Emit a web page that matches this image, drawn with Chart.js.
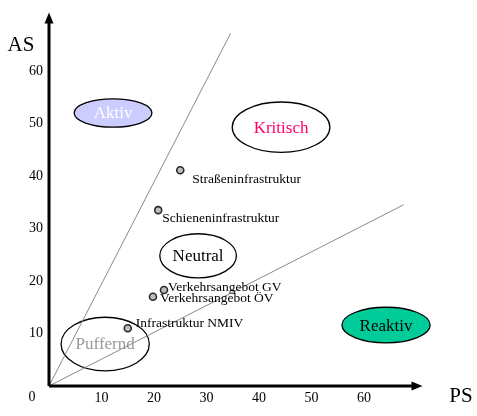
<!DOCTYPE html>
<html>
<head>
<meta charset="utf-8">
<script src="https://cdn.jsdelivr.net/npm/chart.js@4/dist/chart.umd.min.js"></script>
<style>
  html, body { margin: 0; padding: 0; background: #fff; }
  #wrap { width: 477px; height: 416px; }
</style>
</head>
<body>
<div id="wrap"><canvas id="portfolio_chart"></canvas></div>
<script>
// measures: PS on x, AS on y
const measureNames = ['Straßeninfrastruktur', 'Schieneninfrastruktur', 'Verkehrsangebot GV', 'Verkehrsangebot ÖV', 'Infrastruktur NMIV'];
const psValues = [25, 20.8, 21.9, 19.8, 15];
const asValues = [41.1, 33.5, 18.3, 17, 11];

// boundary lines from the origin
const steepLine = [{ x: 0, y: 0 }, { x: 34.6, y: 67.2 }];
const flatLine = [{ x: 0, y: 0 }, { x: 67.5, y: 34.5 }];

// zones (centre and half-axes in PS/AS units)
const zoneNames = ['Aktiv', 'Kritisch', 'Neutral', 'Puffernd', 'Reaktiv'];
const zoneCenterPS = [12.2, 44.2, 28.4, 10.7, 64.2];
const zoneCenterAS = [52, 49.3, 24.8, 8, 11.6];
const zoneRadiusPS = [7.4, 9.3, 7.3, 8.4, 8.4];
const zoneRadiusAS = [2.7, 4.8, 4.2, 5.1, 3.4];

const tickValues = [10, 20, 30, 40, 50, 60];

const zoneFill = ['#ccccff', '#ffffff', '#ffffff', 'rgba(0,0,0,0)', '#00cc99'];
const zoneText = ['#ffffff', '#ff0066', '#000000', '#999999', '#000000'];
const labelOffsets = [[12, 9], [4, 8], [4, -2], [7, 2], [8, -5]];

const serif = '"Liberation Serif", "Times New Roman", serif';

const drawExtras = {
  id: 'drawExtras',
  beforeDatasetsDraw(chart) {
    const { ctx, scales: { x, y } } = chart;
    ctx.save();
    zoneNames.forEach((name, i) => {
      const cx = x.getPixelForValue(zoneCenterPS[i]);
      const cy = y.getPixelForValue(zoneCenterAS[i]);
      const rx = x.getPixelForValue(zoneCenterPS[i] + zoneRadiusPS[i]) - cx;
      const ry = cy - y.getPixelForValue(zoneCenterAS[i] + zoneRadiusAS[i]);
      ctx.beginPath();
      ctx.ellipse(cx, cy, rx, ry, 0, 0, Math.PI * 2);
      ctx.fillStyle = zoneFill[i];
      ctx.fill();
      ctx.lineWidth = 1.3;
      ctx.strokeStyle = '#000';
      ctx.stroke();
      ctx.font = '17px ' + serif;
      ctx.fillStyle = zoneText[i];
      ctx.textAlign = 'center';
      ctx.textBaseline = 'middle';
      ctx.fillText(name, cx, cy + 1);
    });
    ctx.restore();
  },
  afterDatasetsDraw(chart) {
    const { ctx, scales: { x, y } } = chart;
    const x0 = x.getPixelForValue(0);
    const y0 = y.getPixelForValue(0);
    const xEnd = x.right + 6;
    const yEnd = y.top - 6;
    ctx.save();
    // axes
    ctx.strokeStyle = '#000';
    ctx.fillStyle = '#000';
    ctx.lineWidth = 3;
    ctx.beginPath();
    ctx.moveTo(x0, y0);
    ctx.lineTo(xEnd - 8, y0);
    ctx.moveTo(x0, y0);
    ctx.lineTo(x0, yEnd + 8);
    ctx.stroke();
    ctx.beginPath();
    ctx.moveTo(xEnd, y0);
    ctx.lineTo(xEnd - 11, y0 - 4.5);
    ctx.lineTo(xEnd - 11, y0 + 4.5);
    ctx.closePath();
    ctx.fill();
    ctx.beginPath();
    ctx.moveTo(x0, yEnd);
    ctx.lineTo(x0 - 4.5, yEnd + 11);
    ctx.lineTo(x0 + 4.5, yEnd + 11);
    ctx.closePath();
    ctx.fill();

    // point labels
    ctx.font = '13.5px ' + serif;
    ctx.textAlign = 'left';
    ctx.textBaseline = 'middle';
    measureNames.forEach((name, i) => {
      const px = x.getPixelForValue(psValues[i]);
      const py = y.getPixelForValue(asValues[i]);
      ctx.fillText(name, px + labelOffsets[i][0], py + labelOffsets[i][1]);
    });

    // axis titles and origin
    ctx.font = '14px ' + serif;
    ctx.textAlign = 'center';
    ctx.fillText('0', x0 - 17, y0 + 11);
    ctx.font = '21px ' + serif;
    ctx.fillText('AS', 21, 45);
    ctx.fillText('PS', 461, 396);
    ctx.restore();
  },
};

const chartContext = document.getElementById('portfolio_chart').getContext('2d');
const chart = new Chart(chartContext, {
  type: 'scatter',
  data: {
    datasets: [
      {
        data: measureNames.map((n, i) => ({ x: psValues[i], y: asValues[i] })),
        pointRadius: 3.5,
        pointBackgroundColor: '#bdbdbd',
        pointBorderColor: '#2a2a2a',
        pointBorderWidth: 1.6,
        order: 0,
      },
      {
        data: steepLine,
        showLine: true,
        pointRadius: 0,
        borderColor: '#8a8a8a',
        borderWidth: 1,
        order: 1,
      },
      {
        data: flatLine,
        showLine: true,
        pointRadius: 0,
        borderColor: '#8a8a8a',
        borderWidth: 1,
        order: 1,
      },
    ],
  },
  options: {
    responsive: true,
    maintainAspectRatio: false,
    animation: false,
    layout: { padding: { top: 18.5, right: 60.5, left: 0, bottom: 0 } },
    plugins: { legend: { display: false }, tooltip: { enabled: false } },
    scales: {
      x: {
        type: 'linear',
        min: 0,
        max: 70,
        grid: { display: false, drawTicks: false },
        border: { display: false },
        afterBuildTicks: (scale) => { scale.ticks = tickValues.map((v) => ({ value: v })); },
        afterFit: (scale) => { scale.height = 30; },
        ticks: {
          padding: 4,
          maxRotation: 0,
          color: '#000',
          font: { family: serif, size: 14 },
        },
      },
      y: {
        type: 'linear',
        min: 0,
        max: 70,
        grid: { display: false, drawTicks: false },
        border: { display: false },
        afterBuildTicks: (scale) => { scale.ticks = tickValues.map((v) => ({ value: v })); },
        afterFit: (scale) => { scale.width = 49; },
        ticks: {
          padding: 6,
          color: '#000',
          font: { family: serif, size: 14 },
        },
      },
    },
  },
  plugins: [drawExtras],
});
</script>
</body>
</html>
